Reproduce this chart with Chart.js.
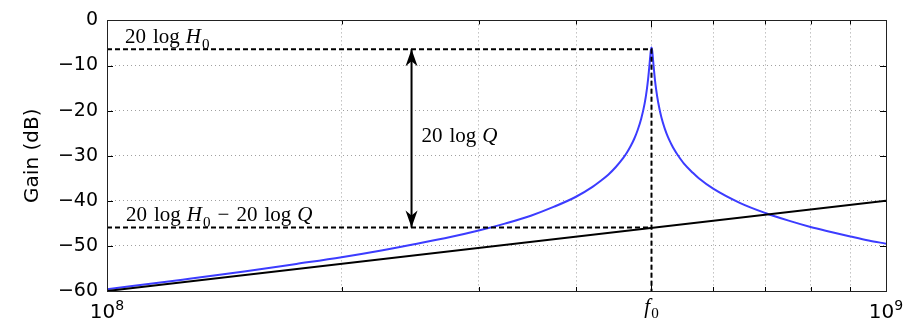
<!DOCTYPE html>
<html>
<head>
<meta charset="utf-8">
<script src="https://cdn.jsdelivr.net/npm/chart.js@4.4.1/dist/chart.umd.min.js"></script>
<style>
  html, body { margin: 0; padding: 0; background: #fff; }
  canvas { display: block; }
</style>
</head>
<body>
<canvas id="myChart" width="919" height="323"></canvas>
<script>
// resonance curve, frequency in Hz, gain in dB
const freq = [1.0e8, 1.25e8, 1.5e8, 1.75e8, 2.0e8, 2.25e8, 2.5e8, 2.75e8, 3.0e8, 3.25e8, 3.5e8, 3.75e8,
  4.0e8, 4.2e8, 4.3e8, 4.4e8, 4.5e8, 4.6e8, 4.65e8, 4.7e8, 4.75e8, 4.8e8, 4.85e8, 4.9e8, 4.93e8, 4.95e8,
  4.97e8, 4.98e8, 4.99e8, 5.0e8, 5.01e8, 5.02e8, 5.03e8, 5.05e8, 5.07e8, 5.1e8, 5.15e8, 5.2e8, 5.25e8,
  5.3e8, 5.35e8, 5.4e8, 5.5e8, 5.65e8, 5.75e8, 6.0e8, 6.5e8, 7.0e8, 7.5e8, 8.0e8, 8.5e8, 9.0e8, 9.5e8, 1.0e9];
const gain = [-59.6, -57.5, -55.7, -54.0, -52.5, -51.0, -49.5, -48.1, -46.6, -45.0, -43.3, -41.3,
  -39.1, -36.9, -35.6, -34.2, -32.5, -30.5, -29.3, -27.9, -26.3, -24.3, -21.8, -18.4, -15.5, -13.0,
  -9.9, -8.2, -6.7, -6.0, -6.7, -8.2, -9.9, -13.0, -15.4, -18.2, -21.6, -24.0, -25.9,
  -27.4, -28.7, -29.8, -31.7, -33.8, -35.0, -37.3, -40.5, -42.7, -44.4, -45.8, -46.9, -47.9, -48.8, -49.5];

// low-frequency asymptote
const asymFreq = [1e8, 1e9];
const asymGain = [-60, -40];

const f0 = 5e8;
const gainPeak = -6.4;   // 20 log H0
const gainLow = -45.9;   // 20 log H0 - 20 log Q
const arrowFreq = 2.46e8;

const yTicks = [0, -10, -20, -30, -40, -50, -60];
const xGridFreq = [1e8, 2e8, 3e8, 4e8, 5e8, 6e8, 7e8, 8e8, 9e8, 1e9];
const xMajor = [1e8, 5e8, 1e9];

const SERIF = '"Liberation Serif", "DejaVu Serif", serif';
const SANS = '"DejaVu Sans", sans-serif';

function drawMath(ctx, x, y, parts, size) {
  let cx = x;
  parts.forEach(p => {
    const fs = p.sub ? size * 0.72 : (p.sup ? size * 0.7 : size);
    const font = p.sans ? SANS : SERIF;
    ctx.font = (p.it ? 'italic ' : '') + fs + 'px ' + font;
    let dy = 0;
    if (p.sub) dy = size * 0.25;
    if (p.sup) dy = -size * 0.38;
    ctx.fillText(p.t, cx, y + dy);
    cx += ctx.measureText(p.t).width + (p.gap || 0);
  });
  return cx - x;
}

function mathWidth(ctx, parts, size) {
  ctx.save();
  ctx.globalAlpha = 0;
  const w = drawMath(ctx, 0, 0, parts, size);
  ctx.restore();
  return w;
}

function arrowHead(ctx, x, y, dir) {
  // dir = -1 points up, 1 points down
  const len = 17, half = 6, notch = 5;
  ctx.beginPath();
  ctx.moveTo(x, y);
  ctx.lineTo(x - half, y - dir * len);
  ctx.lineTo(x, y - dir * (len - notch));
  ctx.lineTo(x + half, y - dir * len);
  ctx.closePath();
  ctx.fill();
}

const decor = {
  id: 'decor',
  afterDatasetsDraw(chart) {
    const {ctx, chartArea: a, scales: {x, y}} = chart;
    ctx.save();
    ctx.strokeStyle = '#000';
    ctx.fillStyle = '#000';
    ctx.lineWidth = 1;

    // inward tick marks
    ctx.beginPath();
    xGridFreq.forEach(v => {
      const px = Math.round(x.getPixelForValue(v)) + 0.5;
      const len = xMajor.includes(v) ? 7 : 4;
      ctx.moveTo(px, a.bottom); ctx.lineTo(px, a.bottom - len);
      ctx.moveTo(px, a.top); ctx.lineTo(px, a.top + len);
    });
    yTicks.forEach(v => {
      const py = Math.round(y.getPixelForValue(v)) + 0.5;
      ctx.moveTo(a.left, py); ctx.lineTo(a.left + 6, py);
      ctx.moveTo(a.right, py); ctx.lineTo(a.right - 6, py);
    });
    ctx.stroke();

    // frame
    ctx.strokeStyle = '#222';
    ctx.strokeRect(Math.round(a.left) + 0.5, Math.round(a.top) + 0.5,
      Math.round(a.right - a.left), Math.round(a.bottom - a.top));

    // arrow heads
    const ax = x.getPixelForValue(arrowFreq);
    arrowHead(ctx, ax, y.getPixelForValue(gainPeak), -1);
    arrowHead(ctx, ax, y.getPixelForValue(gainLow), 1);

    // annotations
    ctx.textBaseline = 'alphabetic';
    ctx.textAlign = 'left';
    const size = 21;
    const x0 = x.getPixelForValue(1e8);
    drawMath(ctx, x0 + 18, y.getPixelForValue(gainPeak) - 6, [
      {t: '20', gap: 7}, {t: 'log', gap: 6}, {t: 'H', it: true, gap: 1}, {t: '0', sub: true}
    ], size);
    drawMath(ctx, x0 + 19, y.getPixelForValue(gainLow) - 6, [
      {t: '20', gap: 7}, {t: 'log', gap: 6}, {t: 'H', it: true, gap: 1}, {t: '0', sub: true, gap: 7},
      {t: '\u2212', gap: 7}, {t: '20', gap: 7}, {t: 'log', gap: 6}, {t: 'Q', it: true}
    ], size);
    drawMath(ctx, ax + 10, y.getPixelForValue((gainPeak + gainLow) / 2) + 4, [
      {t: '20', gap: 7}, {t: 'log', gap: 6}, {t: 'Q', it: true}
    ], size);

    // x tick labels
    const labY = 318;
    const p8 = [{t: '10', sans: true}, {t: '8', sans: true, sup: true}];
    const p9 = [{t: '10', sans: true}, {t: '9', sans: true, sup: true}];
    const pf = [{t: 'f', it: true, gap: 1}, {t: '0', sub: true}];
    const tsize = 20;
    let w = mathWidth(ctx, p8, tsize);
    drawMath(ctx, x.getPixelForValue(1e8) - w / 2, labY, p8, tsize);
    w = mathWidth(ctx, p9, tsize);
    drawMath(ctx, x.getPixelForValue(1e9) - w / 2, labY, p9, tsize);
    w = mathWidth(ctx, pf, 21);
    drawMath(ctx, x.getPixelForValue(f0) - w / 2, labY - 5, pf, 21);

    ctx.restore();
  }
};

const curve = freq.map((f, i) => ({x: f, y: gain[i]}));
const asym = asymFreq.map((f, i) => ({x: f, y: asymGain[i]}));
const dashedH = [
  {x: 1e8, y: gainPeak}, {x: f0, y: gainPeak}, {x: f0, y: -60}
];
const dashedL = [{x: 1e8, y: gainLow}, {x: f0, y: gainLow}];
const arrowShaft = [{x: arrowFreq, y: gainPeak}, {x: arrowFreq, y: gainLow}];

const ctx = document.getElementById('myChart');
new Chart(ctx, {
  type: 'scatter',
  data: {
    datasets: [
      {data: dashedH, borderColor: '#000', borderWidth: 2, borderDash: [5, 3], showLine: true, pointRadius: 0},
      {data: dashedL, borderColor: '#000', borderWidth: 2, borderDash: [5, 3], showLine: true, pointRadius: 0},
      {data: arrowShaft, borderColor: '#000', borderWidth: 2, showLine: true, pointRadius: 0},
      {data: asym, borderColor: '#000', borderWidth: 2, showLine: true, pointRadius: 0},
      {data: curve, borderColor: 'rgb(60, 60, 255)', borderWidth: 2, showLine: true, pointRadius: 0,
        cubicInterpolationMode: 'monotone'}
    ]
  },
  options: {
    responsive: false,
    animation: false,
    events: [],
    layout: {padding: {top: 17, right: 33, left: 0, bottom: 0}},
    plugins: {legend: {display: false}, tooltip: {enabled: false}},
    scales: {
      x: {
        type: 'logarithmic',
        min: 1e8,
        max: 1e9,
        afterBuildTicks: scale => { scale.ticks = xGridFreq.map(v => ({value: v})); },
        afterFit: scale => { scale.height = 32; },
        ticks: {display: false},
        grid: {color: '#a0a0a0', lineWidth: 1, drawTicks: false},
        border: {display: false, dash: [1, 3]}
      },
      y: {
        min: -60,
        max: 0,
        afterBuildTicks: scale => { scale.ticks = yTicks.map(v => ({value: v})); },
        afterFit: scale => { scale.width = 107; },
        ticks: {
          color: '#000',
          padding: 9,
          font: {family: SANS, size: 19},
          callback: v => String(v).replace('-', '\u2212')
        },
        title: {display: true, text: 'Gain (dB)', color: '#000', font: {family: SANS, size: 20},
          padding: {top: 21, bottom: 0}},
        grid: {color: '#a0a0a0', lineWidth: 1, drawTicks: false},
        border: {display: false, dash: [1, 3]}
      }
    }
  },
  plugins: [decor]
});
</script>
</body>
</html>
